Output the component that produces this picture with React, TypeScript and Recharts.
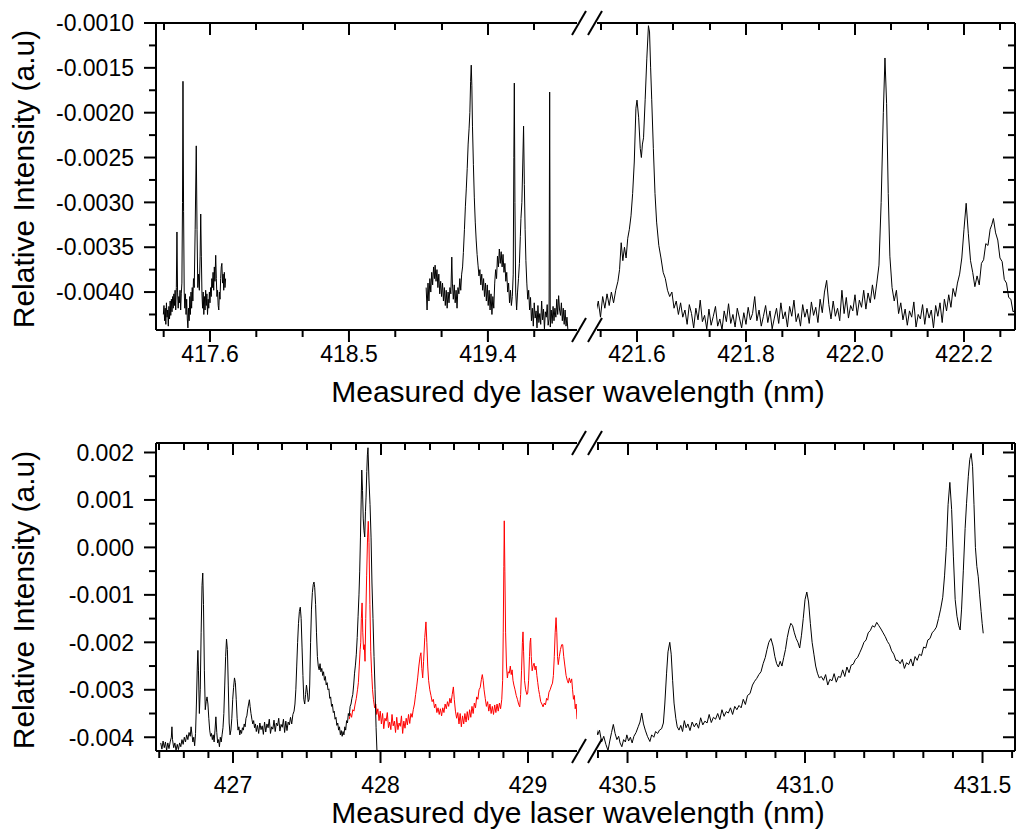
import { LineChart, Line, XAxis, YAxis } from 'recharts';

type Pt = [number, number];

// wavelength (nm), relative intensity (a.u)
const TOP_LEFT_A: Pt[] = [
  [417.298, -0.00425], [417.302, -0.00415], [417.306, -0.00432], [417.310, -0.00418], [417.314, -0.00436],
  [417.318, -0.00412], [417.322, -0.00428], [417.326, -0.00420], [417.330, -0.00438], [417.334, -0.00416],
  [417.338, -0.00430], [417.342, -0.00410], [417.346, -0.00426], [417.350, -0.00408], [417.354, -0.00422],
  [417.358, -0.00405], [417.362, -0.00418], [417.366, -0.00402], [417.370, -0.00415], [417.374, -0.00398],
  [417.378, -0.00420], [417.382, -0.00395], [417.386, -0.00333], [417.390, -0.00400], [417.394, -0.00418],
  [417.398, -0.00405], [417.402, -0.00412], [417.406, -0.00398], [417.410, -0.00420], [417.414, -0.00402],
  [417.418, -0.00390], [417.422, -0.00300], [417.425, -0.00165], [417.429, -0.00310], [417.433, -0.00400],
  [417.437, -0.00418], [417.441, -0.00402], [417.445, -0.00425], [417.449, -0.00408], [417.453, -0.00430],
  [417.457, -0.00440], [417.461, -0.00418], [417.465, -0.00432], [417.469, -0.00405], [417.473, -0.00425],
  [417.477, -0.00400], [417.481, -0.00418], [417.485, -0.00395], [417.489, -0.00410], [417.493, -0.00385],
  [417.498, -0.00395], [417.504, -0.00330], [417.511, -0.00237], [417.516, -0.00330], [417.521, -0.00395],
  [417.526, -0.00380], [417.531, -0.00398], [417.536, -0.00360], [417.540, -0.00313], [417.544, -0.00360],
  [417.548, -0.00402], [417.552, -0.00418], [417.556, -0.00400], [417.560, -0.00425], [417.564, -0.00405],
  [417.568, -0.00420], [417.572, -0.00398], [417.576, -0.00415], [417.580, -0.00402], [417.584, -0.00425],
  [417.588, -0.00408], [417.592, -0.00418], [417.596, -0.00400], [417.600, -0.00412], [417.604, -0.00395],
  [417.608, -0.00405], [417.612, -0.00385], [417.616, -0.00395], [417.620, -0.00378], [417.624, -0.00398],
  [417.628, -0.00372], [417.632, -0.00388], [417.637, -0.00359], [417.641, -0.00385], [417.645, -0.00405],
  [417.649, -0.00398], [417.653, -0.00415], [417.657, -0.00420], [417.661, -0.00400], [417.665, -0.00408],
  [417.669, -0.00385], [417.673, -0.00372], [417.677, -0.00368], [417.681, -0.00390], [417.685, -0.00380],
  [417.689, -0.00398], [417.693, -0.00378], [417.697, -0.00395], [417.701, -0.00385],
];

const TOP_LEFT_B: Pt[] = [
  [419.000, -0.00395], [419.006, -0.00420], [419.012, -0.00390], [419.018, -0.00410], [419.024, -0.00385],
  [419.030, -0.00400], [419.036, -0.00378], [419.042, -0.00392], [419.048, -0.00372], [419.054, -0.00385],
  [419.058, -0.00370], [419.064, -0.00388], [419.070, -0.00375], [419.076, -0.00395], [419.082, -0.00380],
  [419.088, -0.00402], [419.094, -0.00388], [419.100, -0.00405], [419.106, -0.00390], [419.112, -0.00410],
  [419.118, -0.00395], [419.124, -0.00415], [419.130, -0.00398], [419.136, -0.00418], [419.142, -0.00400],
  [419.148, -0.00412], [419.154, -0.00395], [419.160, -0.00402], [419.166, -0.00361], [419.170, -0.00390],
  [419.176, -0.00408], [419.182, -0.00392], [419.188, -0.00412], [419.194, -0.00398], [419.200, -0.00418],
  [419.206, -0.00395], [419.212, -0.00402], [419.218, -0.00385], [419.224, -0.00398], [419.230, -0.00380],
  [419.236, -0.00372], [419.241, -0.00356], [419.248, -0.00330], [419.254, -0.00305], [419.260, -0.00285],
  [419.266, -0.00262], [419.272, -0.00235], [419.278, -0.00218], [419.283, -0.00200], [419.288, -0.00165],
  [419.292, -0.00147], [419.296, -0.00170], [419.300, -0.00215], [419.306, -0.00258], [419.312, -0.00295],
  [419.318, -0.00322], [419.324, -0.00342], [419.330, -0.00358], [419.336, -0.00370], [419.342, -0.00382],
  [419.348, -0.00375], [419.354, -0.00392], [419.360, -0.00380], [419.366, -0.00398], [419.372, -0.00385],
  [419.378, -0.00405], [419.384, -0.00390], [419.390, -0.00410], [419.396, -0.00392], [419.402, -0.00415],
  [419.408, -0.00398], [419.414, -0.00420], [419.420, -0.00402], [419.426, -0.00425], [419.432, -0.00405],
  [419.438, -0.00418], [419.444, -0.00390], [419.450, -0.00375], [419.456, -0.00385], [419.462, -0.00360],
  [419.468, -0.00372], [419.474, -0.00352], [419.480, -0.00368], [419.486, -0.00355], [419.492, -0.00372],
  [419.498, -0.00358], [419.504, -0.00378], [419.510, -0.00368], [419.516, -0.00388], [419.522, -0.00378],
  [419.528, -0.00400], [419.534, -0.00390], [419.540, -0.00412], [419.546, -0.00398], [419.552, -0.00415],
  [419.558, -0.00405], [419.564, -0.00380], [419.568, -0.00250], [419.571, -0.00167], [419.575, -0.00300],
  [419.580, -0.00400], [419.586, -0.00420], [419.592, -0.00400], [419.598, -0.00385], [419.604, -0.00368],
  [419.610, -0.00338], [419.614, -0.00318], [419.620, -0.00300], [419.626, -0.00255], [419.631, -0.00215],
  [419.636, -0.00280], [419.641, -0.00330], [419.646, -0.00365], [419.652, -0.00390], [419.658, -0.00408],
  [419.664, -0.00398], [419.670, -0.00420], [419.676, -0.00406], [419.682, -0.00432], [419.688, -0.00418],
  [419.694, -0.00438], [419.700, -0.00412], [419.706, -0.00429], [419.712, -0.00421], [419.718, -0.00440],
  [419.724, -0.00415], [419.730, -0.00434], [419.736, -0.00424], [419.742, -0.00436], [419.748, -0.00410],
  [419.754, -0.00431], [419.760, -0.00419], [419.766, -0.00441], [419.772, -0.00422], [419.778, -0.00428],
  [419.784, -0.00414], [419.790, -0.00437], [419.796, -0.00430], [419.800, -0.00177], [419.804, -0.00439],
  [419.810, -0.00420], [419.816, -0.00435], [419.822, -0.00416], [419.828, -0.00432], [419.834, -0.00418],
  [419.840, -0.00428], [419.846, -0.00408], [419.852, -0.00425], [419.858, -0.00404], [419.864, -0.00420],
  [419.870, -0.00426], [419.876, -0.00412], [419.882, -0.00432], [419.888, -0.00418], [419.894, -0.00436],
  [419.900, -0.00420], [419.906, -0.00438], [419.912, -0.00428], [419.918, -0.00442],
];

const TOP_RIGHT: Pt[] = [
  [421.525, -0.00422], [421.529, -0.00410], [421.533, -0.00428], [421.537, -0.00405], [421.541, -0.00418],
  [421.545, -0.00402], [421.549, -0.00415], [421.553, -0.00400], [421.557, -0.00412], [421.561, -0.00398],
  [421.565, -0.00388], [421.568, -0.00375], [421.571, -0.00345], [421.574, -0.00365], [421.577, -0.00350],
  [421.580, -0.00362], [421.583, -0.00340], [421.586, -0.00330], [421.589, -0.00315], [421.592, -0.00290],
  [421.595, -0.00255], [421.598, -0.00195], [421.600, -0.00186], [421.603, -0.00205], [421.606, -0.00240],
  [421.608, -0.00250], [421.610, -0.00235], [421.612, -0.00228], [421.615, -0.00185], [421.618, -0.00140],
  [421.621, -0.00103], [421.623, -0.00110], [421.625, -0.00150], [421.627, -0.00185], [421.630, -0.00240],
  [421.633, -0.00290], [421.636, -0.00322], [421.640, -0.00348], [421.644, -0.00362], [421.648, -0.00378],
  [421.652, -0.00385], [421.656, -0.00398], [421.660, -0.00405], [421.664, -0.00400], [421.668, -0.00418],
  [421.672, -0.00410], [421.676, -0.00425], [421.680, -0.00412], [421.684, -0.00428], [421.688, -0.00420],
  [421.692, -0.00436], [421.696, -0.00414], [421.700, -0.00424], [421.704, -0.00440], [421.708, -0.00418],
  [421.712, -0.00431], [421.716, -0.00409], [421.720, -0.00433], [421.724, -0.00426], [421.728, -0.00441],
  [421.732, -0.00419], [421.736, -0.00437], [421.740, -0.00427], [421.744, -0.00416], [421.748, -0.00438],
  [421.752, -0.00430], [421.756, -0.00442], [421.760, -0.00421], [421.764, -0.00433], [421.768, -0.00413],
  [421.772, -0.00435], [421.776, -0.00425], [421.780, -0.00439], [421.784, -0.00418], [421.788, -0.00429],
  [421.792, -0.00440], [421.796, -0.00423], [421.800, -0.00436], [421.804, -0.00417], [421.808, -0.00431],
  [421.812, -0.00424], [421.816, -0.00405], [421.820, -0.00432], [421.824, -0.00420], [421.828, -0.00438],
  [421.832, -0.00427], [421.836, -0.00415], [421.840, -0.00434], [421.844, -0.00421], [421.848, -0.00441],
  [421.852, -0.00429], [421.856, -0.00418], [421.860, -0.00435], [421.864, -0.00412], [421.868, -0.00430],
  [421.872, -0.00422], [421.876, -0.00439], [421.880, -0.00416], [421.884, -0.00427], [421.888, -0.00409],
  [421.892, -0.00433], [421.896, -0.00424], [421.900, -0.00438], [421.904, -0.00414], [421.908, -0.00428],
  [421.912, -0.00419], [421.916, -0.00435], [421.920, -0.00411], [421.924, -0.00426], [421.928, -0.00417],
  [421.932, -0.00434], [421.936, -0.00408], [421.940, -0.00423], [421.944, -0.00400], [421.948, -0.00387],
  [421.952, -0.00414], [421.956, -0.00430], [421.960, -0.00410], [421.964, -0.00427], [421.968, -0.00418],
  [421.972, -0.00432], [421.976, -0.00398], [421.980, -0.00424], [421.984, -0.00406], [421.988, -0.00429],
  [421.992, -0.00415], [421.996, -0.00421], [422.000, -0.00403], [422.004, -0.00426], [422.008, -0.00409],
  [422.012, -0.00417], [422.016, -0.00398], [422.020, -0.00419], [422.024, -0.00401], [422.028, -0.00412],
  [422.032, -0.00392], [422.036, -0.00408], [422.040, -0.00390], [422.044, -0.00370], [422.048, -0.00300],
  [422.052, -0.00200], [422.055, -0.00139], [422.058, -0.00190], [422.061, -0.00290], [422.064, -0.00360],
  [422.068, -0.00395], [422.072, -0.00410], [422.076, -0.00398], [422.080, -0.00424], [422.084, -0.00412],
  [422.088, -0.00431], [422.092, -0.00419], [422.096, -0.00437], [422.100, -0.00421], [422.104, -0.00428],
  [422.108, -0.00411], [422.112, -0.00439], [422.116, -0.00425], [422.120, -0.00430], [422.124, -0.00414],
  [422.128, -0.00436], [422.132, -0.00418], [422.136, -0.00429], [422.140, -0.00420], [422.144, -0.00440],
  [422.148, -0.00415], [422.152, -0.00427], [422.156, -0.00412], [422.160, -0.00434], [422.164, -0.00408],
  [422.168, -0.00421], [422.172, -0.00403], [422.176, -0.00417], [422.180, -0.00396], [422.184, -0.00405],
  [422.188, -0.00390], [422.192, -0.00380], [422.196, -0.00362], [422.200, -0.00330], [422.204, -0.00301],
  [422.208, -0.00335], [422.212, -0.00365], [422.216, -0.00378], [422.220, -0.00394], [422.224, -0.00382],
  [422.228, -0.00392], [422.232, -0.00368], [422.236, -0.00364], [422.240, -0.00346], [422.244, -0.00348],
  [422.248, -0.00330], [422.251, -0.00325], [422.254, -0.00318], [422.258, -0.00334], [422.262, -0.00342],
  [422.266, -0.00362], [422.270, -0.00366], [422.274, -0.00386], [422.278, -0.00390], [422.282, -0.00406],
  [422.286, -0.00408], [422.290, -0.00422], [422.294, -0.00420],
];

const BOT_LEFT_BLACK: Pt[] = [
  [426.510, -0.00412], [426.518, -0.00425], [426.526, -0.00408], [426.534, -0.00422], [426.542, -0.00410],
  [426.550, -0.00428], [426.558, -0.00412], [426.566, -0.00424], [426.574, -0.00410], [426.582, -0.00400],
  [426.586, -0.00378], [426.590, -0.00405], [426.598, -0.00422], [426.606, -0.00412], [426.614, -0.00428],
  [426.622, -0.00415], [426.630, -0.00426], [426.638, -0.00412], [426.646, -0.00420], [426.654, -0.00405],
  [426.662, -0.00415], [426.670, -0.00400], [426.678, -0.00410], [426.686, -0.00395], [426.694, -0.00405],
  [426.702, -0.00390], [426.710, -0.00398], [426.716, -0.00378], [426.722, -0.00395], [426.728, -0.00410],
  [426.734, -0.00400], [426.740, -0.00418], [426.746, -0.00392], [426.752, -0.00330], [426.758, -0.00250],
  [426.762, -0.00217], [426.766, -0.00260], [426.772, -0.00350], [426.778, -0.00300], [426.784, -0.00180],
  [426.790, -0.00080], [426.795, -0.00054], [426.800, -0.00120], [426.806, -0.00260], [426.812, -0.00342],
  [426.818, -0.00325], [426.824, -0.00315], [426.830, -0.00330], [426.836, -0.00360], [426.842, -0.00385],
  [426.848, -0.00398], [426.854, -0.00392], [426.860, -0.00405], [426.866, -0.00395], [426.872, -0.00410],
  [426.878, -0.00385], [426.884, -0.00357], [426.890, -0.00390], [426.896, -0.00412], [426.902, -0.00405],
  [426.908, -0.00420], [426.914, -0.00400], [426.920, -0.00410], [426.926, -0.00395], [426.932, -0.00380],
  [426.938, -0.00350], [426.944, -0.00290], [426.950, -0.00230], [426.956, -0.00193], [426.962, -0.00215],
  [426.968, -0.00290], [426.974, -0.00370], [426.980, -0.00395], [426.986, -0.00385], [426.992, -0.00360],
  [426.998, -0.00320], [427.004, -0.00295], [427.010, -0.00275], [427.016, -0.00285], [427.022, -0.00320],
  [427.028, -0.00360], [427.034, -0.00385], [427.040, -0.00378], [427.046, -0.00395], [427.052, -0.00385],
  [427.058, -0.00392], [427.064, -0.00380], [427.070, -0.00385], [427.076, -0.00372], [427.082, -0.00378],
  [427.088, -0.00360], [427.094, -0.00355], [427.100, -0.00340], [427.106, -0.00330], [427.111, -0.00321],
  [427.116, -0.00335], [427.122, -0.00350], [427.128, -0.00362], [427.134, -0.00372], [427.140, -0.00365],
  [427.146, -0.00380], [427.152, -0.00372], [427.158, -0.00388], [427.166, -0.00375], [427.174, -0.00392],
  [427.182, -0.00370], [427.190, -0.00384], [427.198, -0.00376], [427.206, -0.00394], [427.214, -0.00368],
  [427.222, -0.00389], [427.230, -0.00372], [427.238, -0.00380], [427.246, -0.00362], [427.254, -0.00392],
  [427.262, -0.00378], [427.270, -0.00383], [427.278, -0.00364], [427.286, -0.00388], [427.294, -0.00370],
  [427.302, -0.00376], [427.310, -0.00360], [427.318, -0.00387], [427.326, -0.00373], [427.334, -0.00379],
  [427.342, -0.00362], [427.350, -0.00390], [427.358, -0.00366], [427.366, -0.00386], [427.374, -0.00368],
  [427.382, -0.00374], [427.390, -0.00358], [427.398, -0.00372], [427.406, -0.00352], [427.414, -0.00345],
  [427.420, -0.00330], [427.426, -0.00300], [427.432, -0.00250], [427.438, -0.00200], [427.444, -0.00160],
  [427.450, -0.00135], [427.456, -0.00126], [427.462, -0.00150], [427.468, -0.00210], [427.474, -0.00270],
  [427.480, -0.00320], [427.486, -0.00330], [427.492, -0.00310], [427.498, -0.00290], [427.504, -0.00305],
  [427.510, -0.00325], [427.516, -0.00320], [427.520, -0.00290], [427.526, -0.00200], [427.532, -0.00130],
  [427.538, -0.00095], [427.544, -0.00078], [427.549, -0.00073], [427.554, -0.00085], [427.560, -0.00120],
  [427.566, -0.00180], [427.572, -0.00230], [427.578, -0.00250], [427.584, -0.00258], [427.590, -0.00245],
  [427.596, -0.00262], [427.602, -0.00255], [427.608, -0.00270], [427.614, -0.00262], [427.620, -0.00280],
  [427.626, -0.00272], [427.632, -0.00290], [427.638, -0.00285], [427.644, -0.00300], [427.650, -0.00298],
  [427.656, -0.00318], [427.662, -0.00315], [427.668, -0.00335], [427.674, -0.00330], [427.680, -0.00348],
  [427.686, -0.00345], [427.692, -0.00362], [427.698, -0.00358], [427.704, -0.00375], [427.710, -0.00370],
  [427.716, -0.00385], [427.722, -0.00378], [427.728, -0.00395], [427.734, -0.00386], [427.740, -0.00398],
  [427.746, -0.00388], [427.752, -0.00395], [427.758, -0.00378], [427.764, -0.00385], [427.770, -0.00365],
  [427.776, -0.00370], [427.782, -0.00350], [427.788, -0.00355], [427.794, -0.00335], [427.800, -0.00330],
  [427.806, -0.00318], [427.812, -0.00310], [427.818, -0.00290], [427.824, -0.00265], [427.830, -0.00248],
  [427.836, -0.00225], [427.842, -0.00190], [427.848, -0.00145], [427.854, -0.00100], [427.859, -0.00050],
  [427.864, 0.00020], [427.869, 0.00100], [427.873, 0.00163], [427.878, 0.00120], [427.883, 0.00060],
  [427.888, 0.00035], [427.893, 0.00022], [427.898, 0.00075], [427.902, 0.00106], [427.907, 0.00160],
  [427.911, 0.00195], [427.915, 0.00210], [427.922, 0.00140], [427.929, 0.00090], [427.936, 0.00020],
  [427.942, -0.00075], [427.949, -0.00150], [427.956, -0.00230], [427.963, -0.00300], [427.970, -0.00380],
  [427.976, -0.00430], [427.983, -0.00480],
];

const BOT_LEFT_RED: Pt[] = [
  [427.788, -0.00362], [427.796, -0.00350], [427.804, -0.00358], [427.812, -0.00342], [427.820, -0.00345],
  [427.828, -0.00330], [427.836, -0.00318], [427.844, -0.00300], [427.850, -0.00285], [427.856, -0.00250],
  [427.862, -0.00215], [427.866, -0.00201], [427.870, -0.00150], [427.875, -0.00117], [427.880, -0.00180],
  [427.885, -0.00215], [427.890, -0.00205], [427.895, -0.00240], [427.900, -0.00150], [427.906, -0.00060],
  [427.912, 0.00020], [427.917, 0.00055], [427.922, 0.00010], [427.928, -0.00120], [427.934, -0.00220],
  [427.940, -0.00265], [427.946, -0.00300], [427.952, -0.00320], [427.960, -0.00338], [427.968, -0.00330],
  [427.974, -0.00352], [427.982, -0.00340], [427.990, -0.00365], [427.998, -0.00345], [428.006, -0.00372],
  [428.014, -0.00350], [428.022, -0.00382], [428.030, -0.00360], [428.038, -0.00366], [428.046, -0.00348],
  [428.054, -0.00380], [428.062, -0.00368], [428.070, -0.00384], [428.078, -0.00352], [428.086, -0.00376],
  [428.094, -0.00366], [428.102, -0.00390], [428.110, -0.00358], [428.118, -0.00384], [428.126, -0.00370],
  [428.134, -0.00377], [428.142, -0.00355], [428.150, -0.00392], [428.158, -0.00366], [428.166, -0.00381],
  [428.174, -0.00360], [428.182, -0.00374], [428.190, -0.00352], [428.198, -0.00371], [428.206, -0.00350],
  [428.214, -0.00358], [428.222, -0.00342], [428.230, -0.00330], [428.238, -0.00310], [428.245, -0.00294],
  [428.252, -0.00275], [428.260, -0.00250], [428.268, -0.00230], [428.274, -0.00222], [428.280, -0.00255],
  [428.286, -0.00275], [428.292, -0.00240], [428.300, -0.00190], [428.308, -0.00157], [428.314, -0.00200],
  [428.320, -0.00250], [428.326, -0.00280], [428.334, -0.00300], [428.342, -0.00312], [428.350, -0.00325],
  [428.358, -0.00320], [428.366, -0.00338], [428.374, -0.00330], [428.382, -0.00348], [428.390, -0.00338],
  [428.398, -0.00352], [428.406, -0.00340], [428.414, -0.00355], [428.422, -0.00338], [428.430, -0.00348],
  [428.438, -0.00330], [428.446, -0.00340], [428.454, -0.00325], [428.462, -0.00335], [428.470, -0.00318],
  [428.478, -0.00328], [428.486, -0.00310], [428.494, -0.00294], [428.500, -0.00320], [428.508, -0.00345],
  [428.516, -0.00360], [428.524, -0.00348], [428.532, -0.00372], [428.540, -0.00350], [428.548, -0.00378],
  [428.556, -0.00355], [428.564, -0.00372], [428.572, -0.00350], [428.580, -0.00368], [428.588, -0.00346],
  [428.596, -0.00364], [428.604, -0.00342], [428.612, -0.00358], [428.620, -0.00335], [428.628, -0.00350],
  [428.636, -0.00328], [428.644, -0.00338], [428.652, -0.00315], [428.660, -0.00320], [428.668, -0.00300],
  [428.676, -0.00295], [428.684, -0.00278], [428.690, -0.00268], [428.696, -0.00280], [428.702, -0.00300],
  [428.710, -0.00318], [428.718, -0.00335], [428.726, -0.00325], [428.734, -0.00345], [428.742, -0.00330],
  [428.750, -0.00350], [428.758, -0.00335], [428.766, -0.00352], [428.774, -0.00332], [428.782, -0.00348],
  [428.790, -0.00330], [428.798, -0.00345], [428.806, -0.00328], [428.814, -0.00340], [428.822, -0.00320],
  [428.828, -0.00280], [428.832, -0.00180], [428.836, -0.00040], [428.839, 0.00056], [428.843, -0.00050],
  [428.848, -0.00180], [428.854, -0.00250], [428.860, -0.00275], [428.866, -0.00262], [428.873, -0.00265],
  [428.880, -0.00250], [428.886, -0.00268], [428.892, -0.00258], [428.898, -0.00280], [428.904, -0.00290],
  [428.912, -0.00300], [428.920, -0.00312], [428.928, -0.00320], [428.936, -0.00330], [428.944, -0.00336],
  [428.950, -0.00310], [428.956, -0.00260], [428.962, -0.00200], [428.966, -0.00178], [428.970, -0.00220],
  [428.976, -0.00280], [428.984, -0.00300], [428.992, -0.00310], [428.998, -0.00307], [429.004, -0.00280],
  [429.010, -0.00230], [429.014, -0.00200], [429.018, -0.00191], [429.022, -0.00230], [429.028, -0.00260],
  [429.034, -0.00250], [429.041, -0.00244], [429.048, -0.00258], [429.054, -0.00250], [429.060, -0.00270],
  [429.066, -0.00285], [429.072, -0.00300], [429.078, -0.00310], [429.086, -0.00325], [429.094, -0.00330],
  [429.102, -0.00336], [429.110, -0.00328], [429.118, -0.00332], [429.126, -0.00318], [429.134, -0.00322],
  [429.142, -0.00305], [429.150, -0.00300], [429.158, -0.00292], [429.166, -0.00286], [429.172, -0.00270],
  [429.178, -0.00230], [429.184, -0.00180], [429.190, -0.00148], [429.195, -0.00180], [429.200, -0.00230],
  [429.205, -0.00247], [429.212, -0.00230], [429.220, -0.00215], [429.228, -0.00205], [429.235, -0.00205],
  [429.242, -0.00230], [429.250, -0.00250], [429.258, -0.00270], [429.266, -0.00280], [429.273, -0.00286],
  [429.280, -0.00275], [429.288, -0.00285], [429.296, -0.00277], [429.302, -0.00300], [429.308, -0.00320],
  [429.314, -0.00312], [429.320, -0.00340], [429.326, -0.00330], [429.332, -0.00362],
];

const BOT_RIGHT: Pt[] = [
  [430.411, -0.00378], [430.416, -0.00395], [430.421, -0.00385], [430.427, -0.00410], [430.433, -0.00398],
  [430.439, -0.00415], [430.445, -0.00428], [430.450, -0.00408], [430.455, -0.00390], [430.460, -0.00373],
  [430.465, -0.00392], [430.470, -0.00405], [430.475, -0.00398], [430.479, -0.00412], [430.484, -0.00420],
  [430.489, -0.00405], [430.494, -0.00410], [430.498, -0.00395], [430.503, -0.00408], [430.508, -0.00400],
  [430.513, -0.00412], [430.518, -0.00398], [430.524, -0.00390], [430.530, -0.00378], [430.535, -0.00368],
  [430.540, -0.00349], [430.545, -0.00372], [430.550, -0.00385], [430.556, -0.00398], [430.563, -0.00409],
  [430.568, -0.00395], [430.574, -0.00400], [430.579, -0.00388], [430.585, -0.00392], [430.590, -0.00385],
  [430.596, -0.00382], [430.601, -0.00370], [430.605, -0.00330], [430.610, -0.00265], [430.614, -0.00220],
  [430.619, -0.00200], [430.623, -0.00225], [430.627, -0.00280], [430.631, -0.00328], [430.636, -0.00360],
  [430.640, -0.00378], [430.645, -0.00385], [430.650, -0.00375], [430.655, -0.00388], [430.660, -0.00365],
  [430.665, -0.00380], [430.670, -0.00372], [430.676, -0.00386], [430.682, -0.00368], [430.688, -0.00378],
  [430.694, -0.00370], [430.700, -0.00381], [430.706, -0.00359], [430.712, -0.00374], [430.718, -0.00366],
  [430.724, -0.00370], [430.730, -0.00352], [430.736, -0.00369], [430.742, -0.00358], [430.748, -0.00362],
  [430.754, -0.00350], [430.760, -0.00363], [430.766, -0.00342], [430.772, -0.00356], [430.778, -0.00346],
  [430.784, -0.00349], [430.790, -0.00338], [430.796, -0.00352], [430.802, -0.00335], [430.808, -0.00342],
  [430.814, -0.00333], [430.820, -0.00338], [430.826, -0.00320], [430.832, -0.00331], [430.838, -0.00312],
  [430.845, -0.00308], [430.852, -0.00290], [430.858, -0.00282], [430.864, -0.00276], [430.870, -0.00268],
  [430.876, -0.00262], [430.882, -0.00245], [430.888, -0.00232], [430.893, -0.00215], [430.898, -0.00200],
  [430.904, -0.00192], [430.910, -0.00208], [430.915, -0.00230], [430.920, -0.00245], [430.925, -0.00252],
  [430.930, -0.00240], [430.935, -0.00250], [430.940, -0.00232], [430.945, -0.00215], [430.950, -0.00190],
  [430.955, -0.00172], [430.960, -0.00160], [430.965, -0.00165], [430.970, -0.00180], [430.975, -0.00192],
  [430.980, -0.00200], [430.985, -0.00212], [430.990, -0.00185], [430.995, -0.00150], [431.000, -0.00110],
  [431.005, -0.00094], [431.010, -0.00115], [431.015, -0.00160], [431.020, -0.00200], [431.025, -0.00225],
  [431.030, -0.00250], [431.035, -0.00265], [431.040, -0.00275], [431.046, -0.00272], [431.052, -0.00280],
  [431.058, -0.00268], [431.064, -0.00290], [431.070, -0.00278], [431.076, -0.00281], [431.082, -0.00266],
  [431.088, -0.00284], [431.094, -0.00272], [431.100, -0.00274], [431.106, -0.00258], [431.112, -0.00272],
  [431.118, -0.00252], [431.124, -0.00264], [431.130, -0.00248], [431.136, -0.00246], [431.142, -0.00236],
  [431.148, -0.00232], [431.154, -0.00222], [431.160, -0.00212], [431.166, -0.00200], [431.172, -0.00195],
  [431.178, -0.00180], [431.184, -0.00175], [431.190, -0.00165], [431.196, -0.00168], [431.202, -0.00158],
  [431.208, -0.00165], [431.214, -0.00172], [431.220, -0.00180], [431.226, -0.00188], [431.232, -0.00198],
  [431.238, -0.00205], [431.244, -0.00218], [431.250, -0.00225], [431.256, -0.00238], [431.262, -0.00238],
  [431.268, -0.00245], [431.274, -0.00236], [431.280, -0.00255], [431.286, -0.00243], [431.292, -0.00247],
  [431.298, -0.00235], [431.304, -0.00250], [431.310, -0.00230], [431.316, -0.00238], [431.322, -0.00225],
  [431.328, -0.00228], [431.334, -0.00210], [431.340, -0.00212], [431.346, -0.00195], [431.352, -0.00192],
  [431.358, -0.00180], [431.364, -0.00175], [431.370, -0.00168], [431.376, -0.00150], [431.382, -0.00130],
  [431.388, -0.00105], [431.393, -0.00060], [431.398, 0.00000], [431.403, 0.00090], [431.408, 0.00137],
  [431.413, 0.00080], [431.418, -0.00020], [431.423, -0.00110], [431.428, -0.00145], [431.433, -0.00165],
  [431.437, -0.00174], [431.441, -0.00130], [431.446, -0.00048], [431.451, 0.00040], [431.455, 0.00093],
  [431.460, 0.00150], [431.464, 0.00185], [431.468, 0.00198], [431.472, 0.00170], [431.476, 0.00090],
  [431.480, 0.00000], [431.484, -0.00040], [431.488, -0.00062], [431.492, -0.00100], [431.496, -0.00135],
  [431.499, -0.00160], [431.502, -0.00181],
];

// axis ticks
const TOP_Y_TICKS = [-0.001, -0.00125, -0.0015, -0.00175, -0.002, -0.00225, -0.0025, -0.00275, -0.003, -0.00325, -0.0035, -0.00375, -0.004, -0.00425];
const TOP_Y_MAJOR = [-0.001, -0.0015, -0.002, -0.0025, -0.003, -0.0035, -0.004];
const BOT_Y_TICKS = [0.002, 0.0015, 0.001, 0.0005, 0, -0.0005, -0.001, -0.0015, -0.002, -0.0025, -0.003, -0.0035, -0.004];
const BOT_Y_MAJOR = [0.002, 0.001, 0, -0.001, -0.002, -0.003, -0.004];

const TL_X_TICKS = [417.3, 417.6, 417.9, 418.2, 418.5, 418.8, 419.1, 419.4, 419.7];
const TL_X_MAJOR = [417.6, 418.5, 419.4];
const TR_X_TICKS = [421.5333, 421.6, 421.6667, 421.7333, 421.8, 421.8667, 421.9333, 422.0, 422.0667, 422.1333, 422.2, 422.2667];
const TR_X_MAJOR = [421.6, 421.8, 422.0, 422.2];
const BL_X_TICKS = [426.5, 426.6667, 426.8333, 427, 427.1667, 427.3333, 427.5, 427.6667, 427.8333, 428, 428.1667, 428.3333, 428.5, 428.6667, 428.8333, 429, 429.1667];
const BL_X_MAJOR = [427, 428, 429];
const BR_X_TICKS = [430.4167, 430.5, 430.5833, 430.6667, 430.75, 430.8333, 430.9167, 431, 431.0833, 431.1667, 431.25, 431.3333, 431.4167, 431.5, 431.5833];
const BR_X_MAJOR = [430.5, 431.0, 431.5];

const FONT = '"Liberation Sans", Arial, sans-serif';
const AXIS = { stroke: '#000', strokeWidth: 2 };
const TOP_M = 23;
const X_AXIS_H = 50;

const toPts = (arr: Pt[]) => arr.map(([x, y]) => ({ x, y }));
const isMajor = (majors: number[], v: number) => majors.some((m) => Math.abs(m - v) < 1e-6);

const xTick = (majors: number[], fmt: (v: number) => string, labelDy: number) => (props: any) => {
  const { x, y, payload } = props;
  const major = isMajor(majors, payload.value);
  return (
    <g>
      <line x1={x} y1={y} x2={x} y2={y + (major ? 12 : 7)} stroke="#000" strokeWidth={2} />
      {major && (
        <text x={x} y={y + labelDy} textAnchor="middle" fontFamily={FONT} fontSize={23} fill="#000">
          {fmt(payload.value)}
        </text>
      )}
    </g>
  );
};

const yTick = (majors: number[], fmt: ((v: number) => string) | null) => (props: any) => {
  const { x, y, payload } = props;
  const major = isMajor(majors, payload.value);
  const len = major ? 12 : 7;
  return (
    <g>
      <line x1={x - len} y1={y} x2={x} y2={y} stroke="#000" strokeWidth={2} />
      {fmt && major && (
        <text x={x - 22} y={y} dy="0.36em" textAnchor="end" fontFamily={FONT} fontSize={23} fill="#000">
          {fmt(payload.value)}
        </text>
      )}
    </g>
  );
};

type Series = { data: Pt[]; color: string };

interface SegProps {
  left: number;
  top: number;
  width: number;
  plotH: number;
  side: 'left' | 'right';
  xDomain: [number, number];
  xTicks: number[];
  xMajor: number[];
  xFmt: (v: number) => string;
  labelDy: number;
  yDomain: [number, number];
  yTicks: number[];
  yMajor: number[];
  yFmt: (v: number) => string;
  series: Series[];
}

const Segment = (p: SegProps) => (
  <div style={{ position: 'absolute', left: p.left, top: p.top }}>
    <LineChart width={p.width} height={TOP_M + p.plotH + X_AXIS_H} margin={{ top: TOP_M - 1, right: 0, bottom: 0, left: 0 }}>
      <XAxis
        xAxisId="b" type="number" dataKey="x" domain={p.xDomain} allowDataOverflow
        ticks={p.xTicks} interval={0} height={X_AXIS_H} tickSize={0} tickMargin={0}
        axisLine={AXIS} tickLine={false} tick={xTick(p.xMajor, p.xFmt, p.labelDy)}
      />
      <XAxis
        xAxisId="t" orientation="top" type="number" dataKey="x" domain={p.xDomain} allowDataOverflow
        height={1} axisLine={AXIS} tickLine={false} tick={false}
      />
      <YAxis
        yAxisId="y" orientation={p.side} width={p.side === 'left' ? 156 : 1} type="number"
        domain={p.yDomain} allowDataOverflow ticks={p.yTicks} interval={0} tickSize={0} tickMargin={0}
        axisLine={AXIS} tickLine={false} tick={yTick(p.yMajor, p.side === 'left' ? p.yFmt : null)}
      />
      {p.series.map((s, i) => (
        <Line
          key={i} xAxisId="b" yAxisId="y" data={toPts(s.data)} dataKey="y" type="linear"
          stroke={s.color} strokeWidth={1} dot={false} activeDot={false} isAnimationActive={false}
        />
      ))}
    </LineChart>
  </div>
);

const Slashes = ({ y }: { y: number }) => (
  <g stroke="#000" strokeWidth={2}>
    <line x1={572} y1={y + 12} x2={586} y2={y - 12} />
    <line x1={588} y1={y + 12} x2={602} y2={y - 12} />
  </g>
);

const TOP_Y: [number, number] = [-0.004423, -0.001];
const BOT_Y: [number, number] = [-0.00429, 0.0022];
const TL_DOM: [number, number] = [417.2503, 419.977];
const TR_DOM: [number, number] = [421.5266, 422.2936];
const BL_DOM: [number, number] = [426.478, 429.332];
const BR_DOM: [number, number] = [430.414, 431.5915];
const f1 = (v: number) => v.toFixed(1);
const f0 = (v: number) => v.toFixed(0);
const f4 = (v: number) => v.toFixed(4);
const f3 = (v: number) => (Math.abs(v) < 1e-9 ? 0 : v).toFixed(3);

// inward ticks hanging from the top frame, as small blocks over the charts
type Frame = { x0: number; w: number; y: number; domain: [number, number]; ticks: number[]; majors: number[] };
const FRAMES: Frame[] = [
  { x0: 156, w: 421, y: 22, domain: TL_DOM, ticks: TL_X_TICKS, majors: TL_X_MAJOR },
  { x0: 597, w: 418, y: 22, domain: TR_DOM, ticks: TR_X_TICKS, majors: TR_X_MAJOR },
  { x0: 156, w: 421, y: 442, domain: BL_DOM, ticks: BL_X_TICKS, majors: BL_X_MAJOR },
  { x0: 597, w: 418, y: 442, domain: BR_DOM, ticks: BR_X_TICKS, majors: BR_X_MAJOR },
];

const FrameTicks = () => (
  <>
    {FRAMES.flatMap((f, fi) =>
      f.ticks.map((v, i) => {
        const x = f.x0 + ((v - f.domain[0]) / (f.domain[1] - f.domain[0])) * f.w;
        return (
          <div
            key={`${fi}-${i}`}
            style={{
              position: 'absolute', left: Math.round(x) - 1, top: f.y, width: 2,
              height: isMajor(f.majors, v) ? 13 : 8, background: '#000', zIndex: 10,
            }}
          />
        );
      })
    )}
  </>
);

export default function App() {
  return (
    <div style={{ position: 'absolute', left: 0, top: 0, width: 1016, height: 833, background: '#fff', overflow: 'hidden' }}>
      <Segment
        left={0} top={0} width={577} plotH={307} side="left"
        xDomain={TL_DOM} xTicks={TL_X_TICKS} xMajor={TL_X_MAJOR} xFmt={f1} labelDy={32}
        yDomain={TOP_Y} yTicks={TOP_Y_TICKS} yMajor={TOP_Y_MAJOR} yFmt={f4}
        series={[{ data: TOP_LEFT_A, color: '#000' }, { data: TOP_LEFT_B, color: '#000' }]}
      />
      <Segment
        left={597} top={0} width={419} plotH={307} side="right"
        xDomain={TR_DOM} xTicks={TR_X_TICKS} xMajor={TR_X_MAJOR} xFmt={f1} labelDy={32}
        yDomain={TOP_Y} yTicks={TOP_Y_TICKS} yMajor={TOP_Y_MAJOR} yFmt={f4}
        series={[{ data: TOP_RIGHT, color: '#000' }]}
      />
      <Segment
        left={0} top={420} width={577} plotH={308} side="left"
        xDomain={BL_DOM} xTicks={BL_X_TICKS} xMajor={BL_X_MAJOR} xFmt={f0} labelDy={42}
        yDomain={BOT_Y} yTicks={BOT_Y_TICKS} yMajor={BOT_Y_MAJOR} yFmt={f3}
        series={[{ data: BOT_LEFT_RED, color: '#ff0000' }, { data: BOT_LEFT_BLACK, color: '#000' }]}
      />
      <Segment
        left={597} top={420} width={419} plotH={308} side="right"
        xDomain={BR_DOM} xTicks={BR_X_TICKS} xMajor={BR_X_MAJOR} xFmt={f1} labelDy={42}
        yDomain={BOT_Y} yTicks={BOT_Y_TICKS} yMajor={BOT_Y_MAJOR} yFmt={f3}
        series={[{ data: BOT_RIGHT, color: '#000' }]}
      />
      <svg width={1016} height={833} style={{ position: 'absolute', left: 0, top: 0, pointerEvents: 'none', zIndex: 5 }}>
        <Slashes y={23} />
        <Slashes y={330} />
        <Slashes y={443} />
        <Slashes y={751} />
        <g fontFamily={FONT} fontSize={30} fill="#000">
          <text x={578} y={402} textAnchor="middle">Measured dye laser wavelength (nm)</text>
          <text x={578} y={823} textAnchor="middle">Measured dye laser wavelength (nm)</text>
          <text x={34} y={179} textAnchor="middle" transform="rotate(-90 34 179)">Relative Intensity (a.u)</text>
          <text x={34} y={600} textAnchor="middle" transform="rotate(-90 34 600)">Relative Intensity (a.u)</text>
        </g>
      </svg>
      <FrameTicks />
    </div>
  );
}
